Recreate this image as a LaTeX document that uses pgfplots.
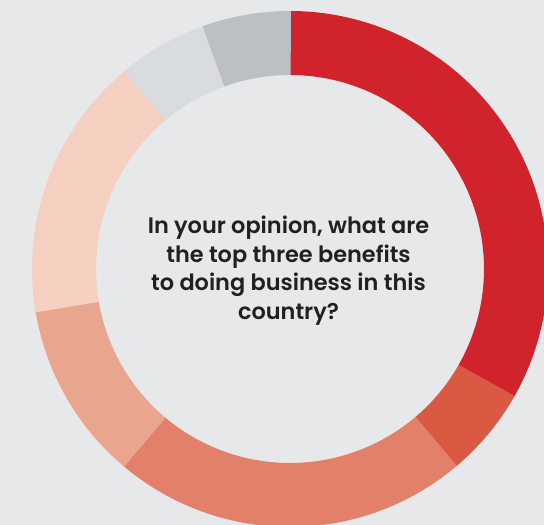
\documentclass[border=0pt]{standalone}
\usepackage{pgfplots}
\pgfplotsset{compat=1.18}
\usepackage{fontspec}
\IfFontExistsTF{Poppins SemiBold}{\newfontfamily\labelfont{Poppins SemiBold}}{\newfontfamily\labelfont{Poppins}[FakeBold=1.5]}
\definecolor{bg}{HTML}{E7E8EA}
\definecolor{txt}{HTML}{231F20}
\definecolor{c1}{HTML}{D0232B}
\definecolor{c2}{HTML}{DA5943}
\definecolor{c3}{HTML}{E2806A}
\definecolor{c4}{HTML}{E9A58E}
\definecolor{c5}{HTML}{F5CFC0}
\definecolor{c6}{HTML}{D9DCDF}
\definecolor{c7}{HTML}{BBC0C4}
% ring: mid radius (axis units = bp), thickness 64
\def\Rm{226}
% slice values (percent), clockwise from the top
\def\vA{33.2}
\def\vB{5.6}
\def\vC{22.3}
\def\vD{11.2}
\def\vE{16.6}
\def\vF{5.6}
\def\vG{5.5}
\pgfmathsetmacro\cA{90}
\pgfmathsetmacro\cB{\cA-3.6*\vA}
\pgfmathsetmacro\cC{\cB-3.6*\vB}
\pgfmathsetmacro\cD{\cC-3.6*\vC}
\pgfmathsetmacro\cE{\cD-3.6*\vD}
\pgfmathsetmacro\cF{\cE-3.6*\vE}
\pgfmathsetmacro\cG{\cF-3.6*\vF}
\pgfmathsetmacro\cH{\cG-3.6*\vG}
\newcommand\slice[3]{%
  \addplot[draw=#3, line width=64bp, line cap=butt, domain={#1}:{#2-0.2}, samples=150]
  ({\Rm*cos(x)},{\Rm*sin(x)});
}
\begin{document}
\begin{tikzpicture}
\begin{axis}[hide axis, scale only axis, width=544bp, height=525bp,
  xmin=-290, xmax=254, ymin=-256, ymax=269, clip=true]
\fill[bg] (rel axis cs:0,0) rectangle (rel axis cs:1,1);
\slice{\cA}{\cB}{c1}
\slice{\cB}{\cC}{c2}
\slice{\cC}{\cD}{c3}
\slice{\cD}{\cE}{c4}
\slice{\cE}{\cF}{c5}
\slice{\cF}{\cG}{c6}
\slice{\cG}{\cH}{c7}
\node[align=center, text=txt, font=\labelfont\fontsize{22.5}{28.7}\selectfont]
  at (axis cs:-1.5,-1.5) {In your opinion, what are\\the top three benefits\\to doing business in this\\country?};
\end{axis}
\end{tikzpicture}
\end{document}
